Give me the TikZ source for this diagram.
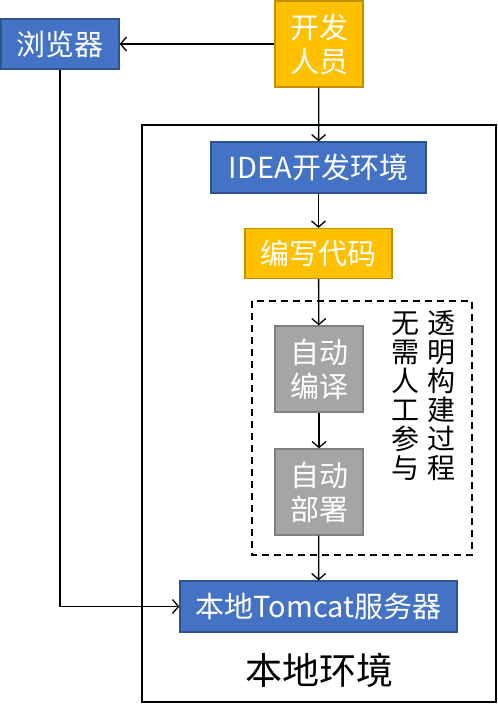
\documentclass[tikz,border=0pt]{standalone}
\usepackage{fontspec}
\setmainfont{Noto Sans CJK SC}
\usetikzlibrary{arrows.meta}

\definecolor{boxblue}{HTML}{4472C4}
\definecolor{edgeblue}{HTML}{2F528F}
\definecolor{boxyellow}{HTML}{FFC000}
\definecolor{edgeyellow}{HTML}{BF9000}
\definecolor{boxgray}{HTML}{A5A5A5}
\definecolor{edgegray}{HTML}{7F7F7F}

\tikzset{
  box/.style={rectangle, draw, line width=1.3pt, text=white, align=center, inner sep=0pt, font=\fontsize{29}{34}\selectfont},
  bluebox/.style={box, fill=boxblue, draw=edgeblue},
  yellowbox/.style={box, fill=boxyellow, draw=edgeyellow},
  graybox/.style={box, fill=boxgray, draw=edgegray},
  flow/.style={line width=1.3pt, -{Straight Barb[length=6pt,width=14pt,line width=1.3pt]}}
}

\begin{document}
\begin{tikzpicture}[x=1pt, y=-1pt]
			\useasboundingbox (0,0) rectangle (498,705);
			
			% Local environment frame and build area
			\draw[line width=1.3pt] (142,125) rectangle (496,702);
			\draw[line width=1.3pt, dashed, dash pattern=on 7pt off 5pt] (252,301) rectangle (472,555);
			\node[font=\fontsize{37}{40}\selectfont] (env) at (319,670) {本地环境};
			
			% Boxes
			\node[bluebox, minimum width=118pt, minimum height=50pt] (browser) at (60,44) {浏览器};
			\node[yellowbox, minimum width=88pt, minimum height=86pt] (dev) at (319,44) {开发\\人员};
			\node[bluebox, minimum width=215pt, minimum height=51pt] (idea) at (318.5,167.5) {IDEA开发环境};
			\node[yellowbox, minimum width=147pt, minimum height=50pt] (code) at (318.5,253.5) {编写代码};
			\node[graybox, minimum width=88pt, minimum height=86pt] (compile) at (319,369) {自动\\编译};
			\node[graybox, minimum width=88pt, minimum height=86pt] (deploy) at (319,492) {自动\\部署};
			\node[bluebox, minimum width=277pt, minimum height=51pt] (tomcat) at (318.5,606.5) {本地Tomcat服务器};
			
			% Vertical notes
			\node[align=center, inner sep=0pt, font=\fontsize{28}{29}\selectfont] (manual) at (405,396) {无\\需\\人\\工\\参\\与};
			\node[align=center, inner sep=0pt, font=\fontsize{28}{29}\selectfont] (transparent) at (441,396) {透\\明\\构\\建\\过\\程};
			
			% Arrows
			\draw[flow] (dev) -- (browser);
			\draw[flow] (dev) -- (idea);
			\draw[flow] (idea) -- (code);
			\draw[flow] (code) -- (compile);
			\draw[flow] (compile) -- (deploy);
			\draw[flow] (deploy) -- (tomcat);
			\draw[flow] (browser.south) |- (tomcat.west);
		\end{tikzpicture}
\end{document}
